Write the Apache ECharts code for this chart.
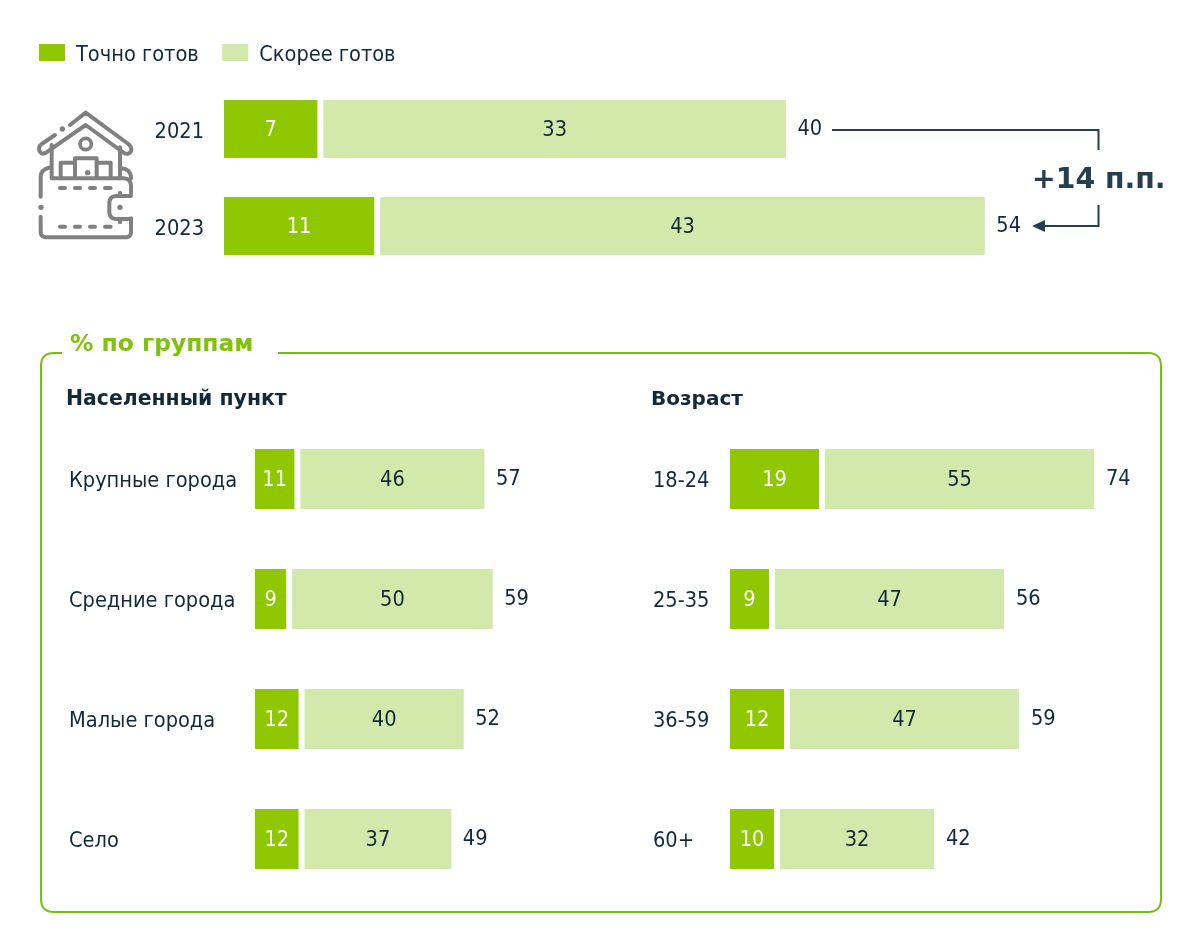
<!DOCTYPE html>
<html><head><meta charset="utf-8">
<script src="https://cdn.jsdelivr.net/npm/echarts@6/dist/echarts.min.js"></script>
<style>html,body{margin:0;padding:0;background:#fff}#c{width:1200px;height:934px}</style></head>
<body><div id="c"></div>
<script>
const seriesNames = ['Точно готов', 'Скорее готов'];
const years = ['2021', '2023'];
const yearsSure = [7, 11];
const yearsLikely = [33, 43];
const yearsTotal = [40, 54];
const places = ['Крупные города', 'Средние города', 'Малые города', 'Село'];
const placesSure = [11, 9, 12, 12];
const placesLikely = [46, 50, 40, 37];
const placesTotal = [57, 59, 52, 49];
const ages = ['18-24', '25-35', '36-59', '60+'];
const agesSure = [19, 9, 12, 10];
const agesLikely = [55, 47, 47, 32];
const agesTotal = [74, 56, 59, 42];

const FONT = '"DejaVu Sans Condensed","DejaVu Sans"';
const BOLD = '"DejaVu Sans"';
const DARK = '#8fc800', LIGHT = '#d2e9ab', TEXT = '#12293a', LINE = '#263f4d', PANEL = '#72bf0c', ICON = '#808080';
const FS = 21.6;

const panels = [
  {cats: years, sure: yearsSure, likely: yearsLikely, total: yearsTotal, left: 221, top: 80.5, h: 194, w: 852, max: 60, bw: 64, margin: 17, align: 'right', dist: 8.5, pad: 6},
  {cats: places, sure: placesSure, likely: placesLikely, total: placesTotal, left: 252, top: 419, h: 480, w: 330.4, max: 80, bw: 66, margin: 183, align: 'left', dist: 8.5, pad: 4},
  {cats: ages, sure: agesSure, likely: agesLikely, total: agesTotal, left: 727, top: 419, h: 480, w: 400, max: 80, bw: 66, margin: 74, align: 'left', dist: 9, pad: 4}
];

const grid = [], xAxis = [], yAxis = [], series = [];
panels.forEach((p, i) => {
  grid.push({left: p.left, top: p.top, width: p.w, height: p.h});
  xAxis.push({gridIndex: i, type: 'value', min: 0, max: p.max, show: false});
  yAxis.push({gridIndex: i, type: 'category', inverse: true, data: p.cats,
    axisLine: {show: false}, axisTick: {show: false},
    axisLabel: {margin: p.margin, align: p.align, formatter: '{a|{value}}',
      rich: {a: {color: TEXT, fontFamily: FONT, fontSize: FS, padding: [p.pad, 0, 0, 0]}}}});
  const bar = (name, data, color, textColor) => ({
    type: 'bar', name, data, stack: 's' + i, xAxisIndex: i, yAxisIndex: i, barWidth: p.bw,
    itemStyle: {color, borderColor: '#fff', borderWidth: 3},
    label: {show: true, position: 'inside', offset: [0, 1], color: textColor, fontFamily: FONT, fontSize: FS},
    emphasis: {disabled: true}, animation: false
  });
  series.push(bar(seriesNames[0], p.sure, DARK, '#fff'));
  series.push(bar(seriesNames[1], p.likely, LIGHT, TEXT));
  series.push({
    type: 'scatter', name: 'Итого', xAxisIndex: i, yAxisIndex: i, symbolSize: 0,
    data: p.total.map((v, k) => [v, k]), animation: false, itemStyle: {opacity: 1},
    label: {show: true, position: 'right', distance: p.dist, offset: [0, 0.5], color: TEXT, opacity: 1, fontFamily: FONT, fontSize: FS, formatter: d => d.value[0]}
  });
});

// Turns a small outline description (M L H V Q) into polylines for the decorative drawings.
function outline(d) {
  const out = [];
  let cur = null, x = 0, y = 0;
  const re = /([MLHVQ])([^MLHVQ]*)/g;
  let m;
  while ((m = re.exec(d))) {
    const n = m[2].trim().split(/[\s,]+/).filter(Boolean).map(Number);
    if (m[1] === 'M') { x = n[0]; y = n[1]; cur = [[x, y]]; out.push(cur); }
    else if (m[1] === 'L') { x = n[0]; y = n[1]; cur.push([x, y]); }
    else if (m[1] === 'H') { x = n[0]; cur.push([x, y]); }
    else if (m[1] === 'V') { y = n[0]; cur.push([x, y]); }
    else {
      for (let t = 1; t <= 8; t++) {
        const s = t / 8, r = 1 - s;
        cur.push([r * r * x + 2 * r * s * n[0] + s * s * n[2], r * r * y + 2 * r * s * n[1] + s * s * n[3]]);
      }
      x = n[2]; y = n[3];
    }
  }
  return out;
}
const lines = (d, style) => outline(d).map(points => ({type: 'polyline', shape: {points}, style}));

const iconStyle = {stroke: ICON, lineWidth: 12, fill: null, lineCap: 'round', lineJoin: 'round'};
const iconPaths = [
  'M150 285L197 248L325 342Q340 356 330 368Q320 376 308 366L197 285L78 368Q65 376 58 362Q55 350 65 342L105 315',
  'M95 345V445H310Q333 445 333 470V490 M333 565V605Q333 622 316 622H80Q62 622 62 605V560 M62 500V440Q62 418 92 412 M305 415Q333 418 333 445',
  'M300 352V445 M122 440V398H165 M165 440V385H230V440 M230 398H272V440',
  'M333 498H290Q268 498 268 520V545Q268 567 290 567H333 M300 488V498 M300 567V577',
  'M120 474H135 M165 474H180 M210 474H225 M255 474H272 M120 590H135 M165 590H180 M210 590H225 M255 590H272'
];
const graphic = [
  {type: 'group', x: 20, y: 30, scaleX: 1 / 3, scaleY: 1 / 3, children: [
    ...iconPaths.flatMap(d => lines(d, iconStyle)),
    {type: 'circle', shape: {cx: 197, cy: 342, r: 17}, style: {stroke: ICON, lineWidth: 11, fill: null}},
    {type: 'circle', shape: {cx: 127, cy: 297, r: 8}, style: {fill: ICON}},
    {type: 'circle', shape: {cx: 203, cy: 428, r: 8}, style: {fill: ICON}},
    {type: 'circle', shape: {cx: 63, cy: 532, r: 8}, style: {fill: ICON}},
    {type: 'circle', shape: {cx: 300, cy: 532, r: 8}, style: {fill: ICON}}
  ]},
  ...lines('M62 353H54Q41 353 41 366V899Q41 912 54 912H1148Q1161 912 1161 899V366Q1161 353 1148 353H278', {stroke: PANEL, lineWidth: 2, fill: null}),
  {type: 'text', x: 70, y: 345, style: {text: '% по группам', fontFamily: BOLD, fontWeight: 'bold', fontSize: 23.4, fill: '#7fc20a', verticalAlign: 'middle'}},
  {type: 'text', x: 66, y: 400, style: {text: 'Населенный пункт', fontFamily: BOLD, fontWeight: 'bold', fontSize: 20.4, fill: TEXT, verticalAlign: 'middle'}},
  {type: 'text', x: 651, y: 400, style: {text: 'Возраст', fontFamily: BOLD, fontWeight: 'bold', fontSize: 20, fill: TEXT, verticalAlign: 'middle'}},
  {type: 'text', x: 1032, y: 181, style: {text: '+14 п.п.', fontFamily: BOLD, fontWeight: 'bold', fontSize: 28.3, fill: LINE, verticalAlign: 'middle'}},
  {type: 'polyline', shape: {points: [[832, 130], [1098.5, 130], [1098.5, 150]]}, style: {stroke: LINE, lineWidth: 2, fill: null}},
  {type: 'polyline', shape: {points: [[1098.5, 205], [1098.5, 226], [1042, 226]]}, style: {stroke: LINE, lineWidth: 2, fill: null}},
  {type: 'polygon', shape: {points: [[1032, 226], [1045, 220], [1045, 232]]}, style: {fill: LINE}}
];

const chart = echarts.init(document.getElementById('c'), null, {renderer: 'canvas'});
chart.setOption({
  backgroundColor: '#fff', animation: false, tooltip: {show: false},
  legend: {data: seriesNames.map(name => ({name, icon: 'rect'})), left: 39, top: 44, itemWidth: 26, itemHeight: 17, itemGap: 23.5, padding: 0, selectedMode: false,
    itemStyle: {borderWidth: 0}, formatter: name => '{a|' + name + '}',
    textStyle: {color: TEXT, fontFamily: FONT, fontSize: FS, padding: [0, 0, 0, 6],
      rich: {a: {color: TEXT, fontFamily: FONT, fontSize: FS, padding: [5, 0, 0, 0]}}}},
  grid, xAxis, yAxis, series, graphic
});
</script></body></html>
